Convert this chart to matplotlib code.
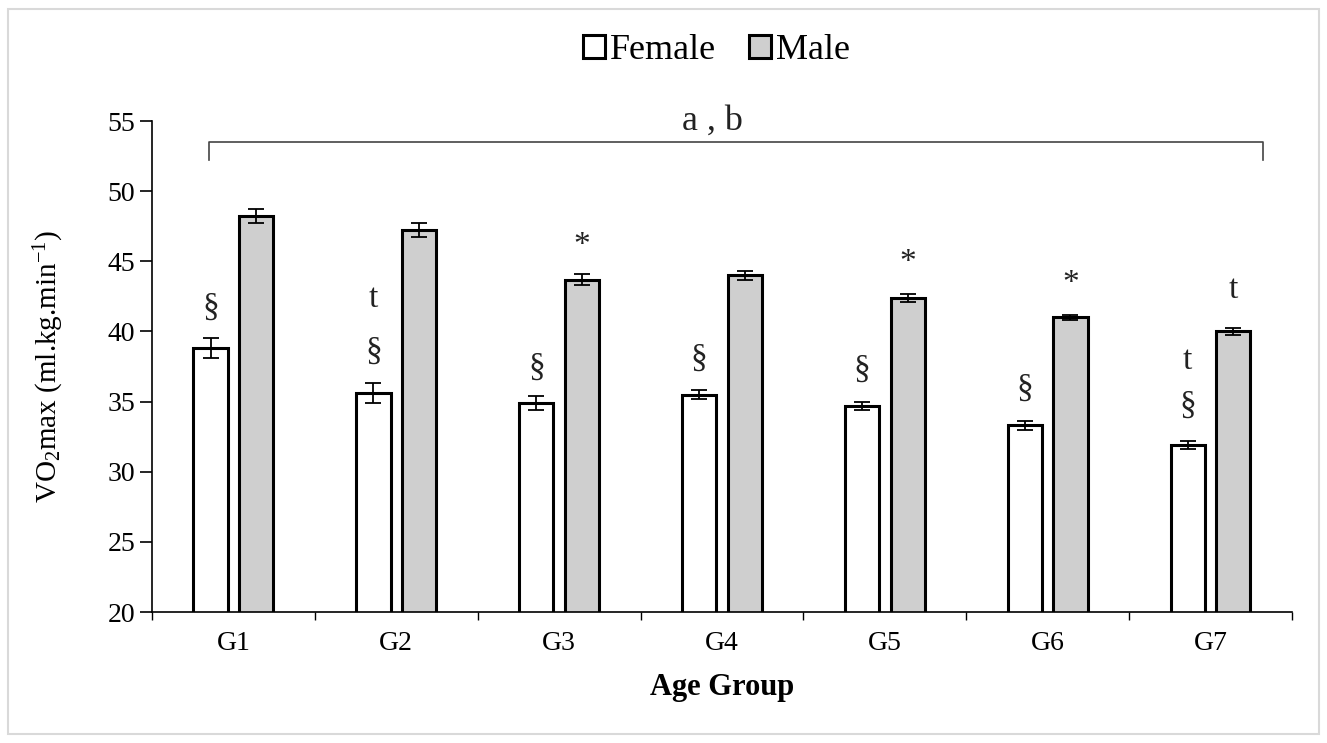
import matplotlib
matplotlib.use("Agg")
import matplotlib.pyplot as plt
import numpy as np
from matplotlib.patches import Rectangle

plt.rcParams["font.family"] = ["Liberation Serif", "DejaVu Serif"]
plt.rcParams["mathtext.fontset"] = "custom"
plt.rcParams["mathtext.rm"] = "Liberation Serif"
plt.rcParams["mathtext.it"] = "Liberation Serif"

# Data
groups = ["G1", "G2", "G3", "G4", "G5", "G6", "G7"]
female = [38.8, 35.6, 34.9, 35.5, 34.7, 33.3, 31.9]
female_err = [0.7, 0.7, 0.5, 0.35, 0.3, 0.3, 0.3]
male = [48.2, 47.2, 43.7, 44.0, 42.4, 41.0, 40.0]
male_err = [0.5, 0.5, 0.4, 0.3, 0.3, 0.2, 0.25]

# significance marks: (group index, symbol, y)
female_marks = [(0, "§", 41.7), (1, "t", 42.3), (1, "§", 38.6), (2, "§", 37.4),
                (3, "§", 38.1), (4, "§", 37.3), (5, "§", 35.9),
                (6, "t", 37.9), (6, "§", 34.7)]
male_marks = [(2, "*", 46.1), (4, "*", 44.9), (5, "*", 43.4), (6, "t", 43.0)]

fig = plt.figure(figsize=(13.27, 7.43), dpi=100)
ax = fig.add_axes([0.1145, 0.1763, 0.8591, 0.6608])

x = np.arange(len(groups))
w = 0.21
off = 0.14
ekw = dict(elinewidth=1.3, capthick=1.3)
ax.bar(x - off, female, w, color="white", edgecolor="black", linewidth=2.2,
       yerr=female_err, capsize=6, error_kw=ekw, label="Female", zorder=2)
ax.bar(x + off, male, w, color="#cfcfcf", edgecolor="black", linewidth=2.2,
       yerr=male_err, capsize=6, error_kw=ekw, label="Male", zorder=2)

for i, s, y in female_marks:
    ax.text(i - off, y, s, ha="center", va="center", fontsize=24, color="#222222")
for i, s, y in male_marks:
    ax.text(i + off, y, s, ha="center", va="center", fontsize=24, color="#222222")

# bracket over all groups
ax.plot([-0.15, -0.15, 6.32, 6.32], [52.2, 53.5, 53.5, 52.2], color="#444444",
        lw=1.2, clip_on=False)
ax.text(2.94, 55.0, "a , b", ha="center", va="center", fontsize=26, color="#222222")

ax.set_ylim(20, 55)
ax.set_xlim(-0.5, 6.5)
ax.set_yticks(range(20, 56, 5))
ax.tick_params(axis="y", labelsize=20, length=9, width=1.2, direction="out", pad=3)
ax.set_xticks(np.arange(-0.5, 7, 1))
ax.set_xticklabels([])
ax.tick_params(axis="x", length=6, width=1.0, direction="out")
ax.set_xticks(x, minor=True)
ax.set_xticklabels(groups, minor=True)
ax.tick_params(axis="x", which="minor", length=0, labelsize=20, pad=14)

for sp in ["top", "right"]:
    ax.spines[sp].set_visible(False)
ax.spines["left"].set_linewidth(1.2)
ax.spines["bottom"].set_linewidth(1.2)

ax.set_ylabel(r"VO$_\mathrm{2}$max (ml.kg.min$^\mathrm{-1}$)", fontsize=21, labelpad=30)
ax.set_xlabel("Age Group", fontsize=22, fontweight="bold", labelpad=12)

fig.legend(loc="center", bbox_to_anchor=(0.54, 0.932), ncol=2, frameon=False,
           fontsize=26, handlelength=0.6, handleheight=0.6, handletextpad=0.15,
           columnspacing=0.9)

# outer frame
fig.patches.append(Rectangle((0.006, 0.012), 0.988, 0.976, transform=fig.transFigure,
                             fill=False, edgecolor="#d9d9d9", lw=1.5))

fig.savefig("out.png", dpi=100)
